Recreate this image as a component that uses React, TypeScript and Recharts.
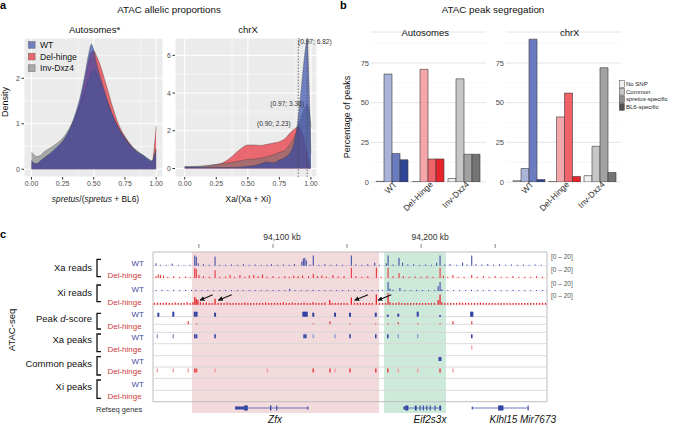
import React from 'react';
import {
  ComposedChart, Area, Bar, Cell, XAxis, YAxis, CartesianGrid,
  ReferenceLine, ReferenceArea, Scatter, ErrorBar,
} from 'recharts';

const FONT = '"Liberation Sans", Arial, Helvetica, sans-serif';

// ---------------- Panel a : allelic proportion densities ----------------
const autoX = [0, 0.02, 0.04, 0.07, 0.1, 0.15, 0.2, 0.25, 0.3, 0.35, 0.4, 0.43, 0.46, 0.48, 0.5, 0.52, 0.55, 0.6, 0.65, 0.7, 0.75, 0.8, 0.85, 0.9, 0.95, 0.97, 0.985, 1.0];
const autoWT = [0.2, 0.14, 0.12, 0.18, 0.25, 0.35, 0.48, 0.62, 0.85, 1.2, 1.7, 2.1, 2.55, 2.75, 2.62, 2.35, 2.05, 1.6, 1.2, 0.9, 0.68, 0.5, 0.38, 0.3, 0.2, 0.18, 0.3, 0.42];
const autoDel = [0.15, 0.13, 0.12, 0.17, 0.24, 0.33, 0.45, 0.6, 0.8, 1.15, 1.6, 2.0, 2.4, 2.58, 2.6, 2.5, 2.3, 1.85, 1.38, 0.98, 0.72, 0.52, 0.37, 0.27, 0.16, 0.18, 0.5, 0.95];
const autoInv = [0.38, 0.32, 0.28, 0.3, 0.38, 0.47, 0.56, 0.68, 0.88, 1.15, 1.5, 1.72, 1.98, 2.1, 2.2, 2.1, 1.9, 1.52, 1.18, 0.9, 0.7, 0.52, 0.4, 0.3, 0.2, 0.17, 0.3, 0.45];

const chrXx = [0, 0.1, 0.2, 0.3, 0.35, 0.4, 0.45, 0.5, 0.55, 0.6, 0.65, 0.7, 0.75, 0.8, 0.83, 0.86, 0.88, 0.9, 0.92, 0.94, 0.96, 0.97, 0.98, 0.99, 1.0];
const chrXWT = [0.08, 0.08, 0.06, 0.05, 0.05, 0.06, 0.08, 0.12, 0.15, 0.25, 0.35, 0.3, 0.45, 0.6, 0.8, 1.2, 1.8, 2.7, 4.0, 5.4, 6.5, 6.82, 5.5, 3.2, 0.8];
const chrXDel = [0.08, 0.08, 0.15, 0.3, 0.5, 0.8, 1.08, 1.25, 1.25, 1.22, 1.28, 1.35, 1.42, 1.62, 1.85, 2.05, 2.15, 2.23, 2.1, 1.7, 1.1, 0.8, 0.5, 0.25, 0.1];
const chrXInv = [0.1, 0.12, 0.18, 0.26, 0.3, 0.35, 0.42, 0.48, 0.5, 0.55, 0.62, 0.72, 0.85, 1.0, 1.25, 1.55, 1.85, 2.2, 2.65, 3.05, 3.3, 3.36, 3.25, 2.9, 2.2];
const chrXModes = [0.9, 0.97];

// ---------------- Panel b : peak segregation ----------------
const groups = ['WT', 'Del-Hinge', 'Inv-Dxz4'];
const peakCats = ['No SNP', 'Common', 'spretus-specific', 'BL6-specific'];
const autoNoSNP = [0.4, 0.2, 2.2];
const autoCommon = [68, 71, 65];
const autoSpretus = [18, 14.5, 17.5];
const autoBL6 = [14, 14.5, 17.5];
const xNoSNP = [0.8, 0.2, 4];
const xCommon = [8.5, 41, 22.5];
const xSpretus = [90, 56, 72];
const xBL6 = [1.5, 3.5, 6];

// ---------------- Panel c : genome tracks (kb, coverage 0-20) ----------------
const xaReadsWT = [[94021, 4], [94024, 1.5], [94028, 1.5], [94032, 3.5], [94036, 1.5], [94040, 1], [94044, 1.5], [94047.2, 17], [94048.2, 15], [94049.5, 4], [94053, 2.5], [94057, 1.5], [94060.9, 15], [94064, 1.5], [94068, 1.5], [94072, 2], [94076, 1.5], [94080, 2.5], [94084, 1.5], [94088, 2], [94092, 1.5], [94096, 1.5], [94099, 2.5], [94103, 1.5], [94107, 2], [94111, 1.5], [94114.5, 3], [94119.5, 7], [94120.5, 12], [94121.5, 13], [94122.5, 9], [94125, 2], [94127.2, 17], [94131, 1.5], [94135, 2.5], [94139, 1.5], [94143, 2], [94147, 1.5], [94152.9, 17], [94156, 2], [94160, 1.5], [94164, 2.5], [94168.7, 5], [94172, 1.5], [94176.5, 4], [94177.7, 17], [94181, 2], [94185.1, 13], [94187.5, 5], [94191, 2], [94195, 2.5], [94199, 1.5], [94203, 2], [94207, 1.5], [94210.5, 5], [94212.8, 17], [94216, 2], [94219.5, 3], [94224, 1.5], [94228, 5], [94231, 2], [94234.2, 17], [94237, 2.5], [94241, 2], [94245, 3], [94249, 2], [94253, 2.5], [94257, 1.5], [94261, 2], [94265, 1.5], [94269, 2], [94273, 1.5], [94277, 2], [94281, 1.5]];
const xaReadsDel = [[94021, 3], [94022.5, 6], [94024, 5], [94026, 4], [94029, 2], [94033, 3], [94037, 2], [94041, 2.5], [94044, 1.5], [94047.2, 17], [94048.2, 15], [94050, 5], [94053, 3], [94057, 2], [94060.9, 13], [94064, 2], [94068, 2.5], [94071, 5], [94074, 2], [94077.7, 5], [94081, 2], [94084, 4], [94087, 5], [94090, 3], [94093, 6], [94096, 2], [94100, 3], [94104, 2], [94108, 3], [94111, 2], [94114, 4], [94117, 3], [94120, 4], [94124, 3], [94127.2, 7], [94130, 3], [94133, 4], [94136, 2.5], [94140.5, 5], [94144, 2.5], [94148, 3], [94152.9, 17], [94156, 3], [94160, 2], [94164, 3], [94169.8, 17], [94173, 2], [94177.7, 17], [94181, 3], [94185.1, 8], [94188, 3], [94192, 2], [94196, 2.5], [94200, 2], [94204, 3], [94208, 2], [94212.8, 17], [94215, 4], [94218, 2], [94221.5, 5], [94225, 2], [94229, 2], [94234.2, 5], [94238, 2], [94242, 3], [94246, 2], [94250, 3], [94254, 2], [94258, 2], [94262, 3], [94266, 2], [94270, 2], [94274, 2], [94278, 3], [94282, 2]];
const xiReadsWT = [[94021, 1.5], [94025, 2], [94029, 1.5], [94033, 2], [94037, 1.5], [94041, 2], [94045, 1.5], [94048, 2], [94052, 1.5], [94056, 1.5], [94060, 1.5], [94064, 1.5], [94068, 1.5], [94072, 1.5], [94076, 1.5], [94080, 1.5], [94084, 1.5], [94088, 1.5], [94092, 1.5], [94096, 1.5], [94100, 1.5], [94104, 1.5], [94108, 1.5], [94111.3, 3.5], [94115, 1.5], [94119, 1.5], [94123, 1.5], [94127, 2], [94131, 1.5], [94135, 1.5], [94139, 1.5], [94143, 1.5], [94147, 1.5], [94151, 1.5], [94155, 1.5], [94159, 1.5], [94163, 1.5], [94167, 1.5], [94171, 1.5], [94174, 1.5], [94177.7, 15], [94179, 4], [94181, 2], [94185.7, 5], [94189, 1.5], [94193, 1.5], [94197, 2], [94201, 1.5], [94205, 1.5], [94209, 1.5], [94211.5, 8], [94212.8, 15], [94214, 3], [94218, 1.5], [94222, 1.5], [94226, 1.5], [94230, 1.5], [94234, 2], [94238, 1.5], [94242, 1.5], [94246, 2], [94250, 1.5], [94254, 1.5], [94258, 1.5], [94262, 2], [94266, 1.5], [94270, 1.5], [94274, 1.5], [94278, 1.5], [94282, 1.5]];
const xiReadsDel = [[94020, 3], [94022, 3.5], [94024, 3], [94026, 3], [94028, 3.5], [94030, 3], [94032, 3], [94034, 3.5], [94036, 3], [94038, 3], [94040, 3], [94042, 4], [94044, 3], [94046, 4], [94047.2, 13], [94048.2, 10], [94049.3, 8], [94051, 4], [94053, 3], [94055, 3.5], [94057, 3], [94059, 3], [94060.9, 10], [94063, 3], [94065, 3], [94067, 3], [94069, 3.5], [94071, 3], [94073, 3], [94075, 3], [94077, 3], [94079, 3], [94081, 3.5], [94083, 3], [94085, 3], [94087, 3], [94089, 3], [94091, 3], [94093, 3], [94095, 3.5], [94097, 3], [94099, 3], [94101, 3], [94103, 3], [94105, 3], [94107, 4], [94109, 3], [94111, 3], [94113, 3.5], [94115, 3], [94117, 3], [94119, 3], [94121, 3.5], [94123, 3], [94125, 3], [94127, 4], [94129, 3], [94131, 3], [94133, 3], [94135, 3.5], [94138.3, 8], [94140, 3], [94142, 3], [94144, 3], [94146, 3], [94148, 3], [94150, 3], [94152.9, 12], [94155, 3], [94157, 3], [94159, 3], [94161, 3], [94163, 3], [94165, 3], [94167, 3], [94169.8, 17], [94172, 3], [94174, 3], [94176, 3], [94177.7, 19], [94179, 4], [94181, 3], [94183, 3], [94185, 4], [94187, 3], [94189, 3], [94191, 3], [94193, 3], [94195, 3], [94197, 3], [94199, 3], [94201, 3], [94203, 3], [94205, 3], [94207, 3], [94209, 3], [94211.5, 8], [94212.8, 17], [94214, 4], [94216, 3], [94218, 3], [94220, 3], [94222, 3], [94224, 3], [94226, 3.5], [94228, 3], [94230, 3], [94232, 3], [94234, 3], [94236, 3], [94238, 3], [94240, 3.5], [94242, 3], [94244, 3], [94246, 3], [94248, 3], [94250, 3], [94252, 3], [94254, 3], [94256, 3], [94258, 3], [94260, 3], [94262, 3], [94264, 3], [94266, 3], [94268, 3], [94270, 3], [94272, 3], [94274, 3], [94276, 3], [94278, 3], [94280, 3], [94282, 3], [94284, 3]];

// d-score bars (kb, score)
const dScoreWT = [[94022.6, 4], [94032.7, 5], [94047.2, 5], [94048.4, 5], [94060.9, 4], [94120.5, 5], [94121.6, 5], [94122.8, 5], [94127.2, 4], [94141.9, 4], [94152, 4], [94169.4, 4], [94177.5, 2], [94184.6, 3], [94197.7, 5], [94212.8, 1.5], [94233.8, 5], [94234.6, 5]];
const dScoreDel = [[94042.8, 3], [94048.4, 1], [94127.2, 1], [94138.5, 3], [94152, 1], [94169.4, 1], [94177.5, 1], [94184.6, 2], [94197.7, 1], [94212.8, 1], [94221.5, 3], [94234.2, 3]];
// peak calls (kb, score 0-1000)
const xaPeaksWT = [[94021.9, 300], [94032.7, 300], [94047.2, 900], [94048.4, 900], [94060.9, 800], [94121.0, 900], [94122.2, 900], [94127.2, 300], [94141.9, 300], [94152, 800], [94169.4, 800], [94177.5, 800], [94184.6, 300], [94197.7, 300], [94234.2, 900]];
const xaPeaksDel = [[94234.2, 300]];
const commonPeaksWT = [[94212.3, 900], [94213.2, 900]];
const commonPeaksDel = [[94021.9, 300], [94032.7, 300], [94042.8, 300], [94047.2, 800], [94048.4, 800], [94060.9, 300], [94096.2, 300], [94127.2, 600], [94138.5, 700], [94141.9, 300], [94152, 700], [94169.4, 700], [94177.5, 800], [94184.6, 300], [94197.7, 300], [94212.8, 800], [94221.5, 300]];
const xiPeaksWT: number[][] = [];
const xiPeaksDel: number[][] = [];

// highlighted loci
const zfxRegion = [94045.3, 94171.6];
const eifRegion = [94175.0, 94216.8];
// gene models
const geneBodies = [[94074.4, 94123.9], [94188.1, 94214.0], [94234.2, 94272.6]];
const geneExons = [[94074.4, 94080.5, 0], [94080.5, 94083.0, 1], [94098.0, 94098.9, 1], [94102.2, 94102.9, 1], [94123.2, 94123.9, 0],
  [94188.1, 94189.3, 0], [94189.3, 94191.4, 1], [94195.8, 94197.0, 1], [94199.0, 94199.7, 1], [94201.2, 94201.9, 1], [94203.5, 94204.2, 1], [94205.8, 94206.5, 1], [94209.1, 94209.8, 1], [94212.3, 94213.4, 1],
  [94234.2, 94234.9, 0], [94252.0, 94255.6, 1], [94271.9, 94272.6, 1]];
const kbTicks = [94050, 94100, 94150, 94200, 94250];
const kbLabelled = [94100, 94200];

// ------------------------------------------------------------------
const aAuto = autoX.map((x, i) => ({ x, wt: autoWT[i], del: autoDel[i], inv: autoInv[i] }));
const aX = chrXx.map((x, i) => ({ x, wt: chrXWT[i], del: chrXDel[i], inv: chrXInv[i] }));
const bAuto = groups.map((g, i) => ({ g, c0: autoNoSNP[i], c1: autoCommon[i], c2: autoSpretus[i], c3: autoBL6[i] }));
const bX = groups.map((g, i) => ({ g, c0: xNoSNP[i], c1: xCommon[i], c2: xSpretus[i], c3: xBL6[i] }));

const barColors = [
  ['#c4c4c4', '#aab3da', '#6b7bbf', '#2e4596'],
  ['#f6d0d2', '#f4a6aa', '#ef6269', '#e5242c'],
  ['#f0f0f0', '#c6c6c6', '#a2a2a2', '#747474'],
];
const legendColors = ['#f0f0f0', '#c6c6c6', '#8f8f8f', '#505050'];

const BLUE = '#3142a3';
const RED = '#e6262c';
const noShape = () => <g />;

const toBars = (rows: number[][], base: number, k: number) => rows.map(([x, v]) => ({ x, y: base, e: [0, v * k] }));
const toBlocks = (rows: number[][], base: number, h: number, strong: boolean) =>
  rows.filter(([, s]) => (s >= 500) === strong).map(([x]) => ({ x, y: base, e: [0, h] }));

const tracks = [
  { data: toBars(xaReadsWT, 149.3, 0.6), color: BLUE, w: 1 },
  { data: toBars(xaReadsDel, 137, 0.6), color: RED, w: 1 },
  { data: toBars(xiReadsWT, 124, 0.6), color: BLUE, w: 1 },
  { data: toBars(xiReadsDel, 110.3, 0.6), color: RED, w: 1.3 },
  { data: toBars(dScoreWT, 98.3, 1), color: '#2f41a1', w: 2 },
  { data: toBars(dScoreDel, 90.7, 1), color: '#e23a3a', w: 1.2 },
  { data: toBlocks(xaPeaksWT, 76.7, 4, true), color: '#3447a6', w: 1.6 },
  { data: toBlocks(xaPeaksWT, 76.7, 4, false), color: '#8f9ad0', w: 1.4 },
  { data: toBlocks(xaPeaksDel, 65.5, 4, false), color: '#f2a0a0', w: 1.4 },
  { data: toBlocks(commonPeaksWT, 54, 4, true), color: '#3447a6', w: 1.6 },
  { data: toBlocks(commonPeaksDel, 42.5, 4, true), color: '#e84848', w: 1.6 },
  { data: toBlocks(commonPeaksDel, 42.5, 4, false), color: '#f2a0a0', w: 1.4 },
  { data: toBlocks(xiPeaksWT, 31, 4, true), color: '#3447a6', w: 1.6 },
  { data: toBlocks(xiPeaksDel, 19.5, 4, true), color: '#e84848', w: 1.6 },
];
const rowLines = [98.3, 90.7, 82.7, 71.3, 59.3, 48, 36.7, 24.7];
const readBaselines = [[149.3, BLUE], [137, RED], [124, BLUE], [110.3, RED]];

const tickStyle = { fontSize: 7, fill: '#4d4d4d', fontFamily: FONT };

const RotTick = (props: any) => {
  const { x, y, payload } = props;
  const ax = x + 5;
  return (
    <text x={ax} y={y} transform={`rotate(-45 ${ax} ${y})`} textAnchor="end" fontSize={8.5} fill="#333" fontFamily={FONT}>
      {payload.value}
    </text>
  );
};

const KbTick = (props: any) => {
  const { x, y, payload } = props;
  if (!kbLabelled.includes(payload.value)) return <g />;
  return (
    <text x={x + 9} y={y - 2} textAnchor="middle" fontSize={8.5} fill="#333" fontFamily={FONT}>
      {payload.value.toLocaleString('en-US') + ' kb'}
    </text>
  );
};

const DensityChart = ({ data, left, width, mLeft, mRight, xDomain, yDomain, yTicks, yMinor, modes }: any) => (
  <div style={{ position: 'absolute', left, top: 0 }}>
    <ComposedChart width={width} height={215} data={data} margin={{ top: 38, right: mRight, bottom: 18, left: mLeft }}>
      <CartesianGrid fill="#ebebeb" stroke="#ffffff" strokeWidth={1} />
      <CartesianGrid stroke="#ffffff" strokeWidth={0.5} horizontalValues={yMinor} verticalValues={[0.125, 0.375, 0.625, 0.875]} />
      <XAxis type="number" dataKey="x" domain={xDomain} ticks={[0, 0.25, 0.5, 0.75, 1]} tickFormatter={(v: number) => v.toFixed(2)}
        height={20} tickSize={2.5} tickMargin={1.5} axisLine={false} stroke="#333" tick={tickStyle} allowDataOverflow />
      <YAxis type="number" domain={yDomain} ticks={yTicks} width={14} tickSize={2.5} tickMargin={1.5} axisLine={false} stroke="#333" tick={tickStyle} allowDataOverflow />
      <Area type="monotone" dataKey="del" baseValue={0} fill="#e8303a" fillOpacity={0.7} stroke="#3a3a3a" strokeWidth={0.5} strokeOpacity={0.7} isAnimationActive={false} />
      <Area type="monotone" dataKey="inv" baseValue={0} fill="#707070" fillOpacity={0.55} stroke="#3a3a3a" strokeWidth={0.5} strokeOpacity={0.7} isAnimationActive={false} />
      <Area type="monotone" dataKey="wt" baseValue={0} fill="#2d45a8" fillOpacity={0.65} stroke="#3a3a3a" strokeWidth={0.5} strokeOpacity={0.7} isAnimationActive={false} />
      {modes && modes.map((m: number) => (
        <ReferenceLine key={m} x={m} stroke="#444" strokeWidth={0.7} strokeDasharray="1.5 1.5" />
      ))}
    </ComposedChart>
  </div>
);

const SegChart = ({ data, left, width, mLeft, yWidth, padL, padR }: any) => (
  <div style={{ position: 'absolute', left, top: 0 }}>
    <ComposedChart width={width} height={230} data={data} margin={{ top: 32, right: 4, bottom: 8, left: mLeft }} barCategoryGap={1.5} barGap={0}>
      <CartesianGrid vertical={false} stroke="#f3f3f3" strokeWidth={0.6} horizontalValues={[12.5, 37.5, 62.5, 87.5]} />
      <CartesianGrid vertical={false} stroke="#e4e4e4" strokeWidth={1} />
      <XAxis dataKey="g" type="category" padding={{ left: padL, right: padR }} height={40} tickSize={0} tickMargin={3}
        axisLine={false} tickLine={false} tick={<RotTick />} interval={0} />
      <YAxis type="number" domain={[0, 94.5]} ticks={[0, 25, 50, 75]} width={yWidth} axisLine={false} tickLine={false}
        tickSize={0} tickMargin={2} tick={{ fontSize: 7.5, fill: '#4d4d4d', fontFamily: FONT }} allowDataOverflow />
      {['c0', 'c1', 'c2', 'c3'].map((k, ci) => (
        <Bar key={k} dataKey={k} stroke="#3a3a3a" strokeWidth={0.6} isAnimationActive={false}>
          {groups.map((g, gi) => <Cell key={g} fill={barColors[gi][ci]} />)}
        </Bar>
      ))}
    </ComposedChart>
  </div>
);

const TrackChart = () => (
  <div style={{ position: 'absolute', left: 0, top: 0 }}>
    <ComposedChart width={673} height={424} margin={{ top: 228, right: 126, bottom: 9, left: 153 }}>
      <XAxis type="number" dataKey="x" orientation="top" domain={[94019, 94285]} ticks={kbTicks} tickSize={4} tickMargin={2}
        height={20} axisLine={false} stroke="#888" tick={<KbTick />} allowDataOverflow />
      <YAxis type="number" dataKey="y" domain={[0, 167]} hide allowDataOverflow />
      <ReferenceArea x1={zfxRegion[0]} x2={zfxRegion[1]} y1={2} y2={163} fill="#f2dadd" fillOpacity={1} stroke="none" ifOverflow="visible" />
      <ReferenceArea x1={eifRegion[0]} x2={eifRegion[1]} y1={2} y2={163} fill="#cde9da" fillOpacity={1} stroke="none" ifOverflow="visible" />
      {rowLines.map((y) => <ReferenceLine key={y} y={y} stroke="#d6d6d6" strokeWidth={0.9} />)}
      {readBaselines.map(([y, c]: any) => <ReferenceLine key={'b' + y} y={y} stroke={c} strokeOpacity={0.3} strokeWidth={0.7} strokeDasharray="1.5 1" />)}
      <ReferenceArea x1={94019} x2={94285} y1={13.3} y2={163} fill="none" fillOpacity={0} stroke="#bdbdbd" strokeWidth={1} ifOverflow="visible" />
      {geneBodies.map(([s, e]) => (
        <ReferenceLine key={'g' + s} segment={[{ x: s, y: 7 }, { x: e, y: 7 }]} stroke="#4a5ab0" strokeWidth={0.8} ifOverflow="visible" />
      ))}
      {geneExons.map(([s, e, t]) => (
        <ReferenceArea key={'e' + s} x1={s} x2={e} y1={t ? 4.5 : 5.5} y2={t ? 9.5 : 8.5} fill="#2b3c9c" fillOpacity={1} stroke="none" ifOverflow="visible" />
      ))}
      {tracks.map((t, i) => (
        <Scatter key={'t' + i} data={t.data} dataKey="y" shape={noShape} isAnimationActive={false}>
          <ErrorBar dataKey="e" direction="y" width={0} stroke={t.color} strokeWidth={t.w} isAnimationActive={false} />
        </Scatter>
      ))}
    </ComposedChart>
  </div>
);

const Bracket = ({ y1, y2 }: any) => (
  <path d={`M101,${y1} L97,${y1} L97,${y2} L101,${y2}`} fill="none" stroke="#111" strokeWidth={1.3} />
);

const rowLabels = [
  { name: 'Xa reads', y: 271, b: [259.3, 276.7], wt: 265.5, del: 277.8 },
  { name: 'Xi reads', y: 295.6, b: [285, 301.7], wt: 292, del: 304.5 },
  { name: 'Peak', italic: 'd', rest: '-score', y: 321.6, b: [313.3, 329], wt: 317, del: 328.5 },
  { name: 'Xa peaks', y: 343.3, b: [334, 351.7], wt: 340, del: 351.8 },
  { name: 'Common peaks', y: 366.6, b: [356.7, 375], wt: 363.5, del: 374 },
  { name: 'Xi peaks', y: 390, b: [380, 398.3], wt: 386.8, del: 398.5 },
];

const Overlay = () => (
  <svg width={673} height={424} style={{ position: 'absolute', left: 0, top: 0, pointerEvents: 'none' }} fontFamily={FONT}>
    <defs>
      <marker id="ah" viewBox="0 0 10 10" refX="9" refY="5" markerWidth="4.5" markerHeight="4.5" orient="auto">
        <path d="M0,0 L10,5 L0,10 z" fill="#111" />
      </marker>
    </defs>
    {/* panel letters */}
    <text x={0} y={9} fontSize={11} fontWeight="bold" fill="#000">a</text>
    <text x={340} y={9} fontSize={11} fontWeight="bold" fill="#000">b</text>
    <text x={0} y={238} fontSize={11} fontWeight="bold" fill="#000">c</text>

    {/* panel a */}
    <text x={169} y={12.5} fontSize={9.8} textAnchor="middle" fill="#111">ATAC allelic proportions</text>
    <text x={94.5} y={32.5} fontSize={9.5} textAnchor="middle" fill="#111">Autosomes*</text>
    <text x={248} y={32.5} fontSize={9.5} textAnchor="middle" fill="#111">chrX</text>
    <text x={8.3} y={102} fontSize={9} textAnchor="middle" fill="#111" transform="rotate(-90 8.3 102)">Density</text>
    <text x={95.5} y={201.5} fontSize={8.4} textAnchor="middle" fill="#111">
      <tspan fontStyle="italic">spretus</tspan>/(<tspan fontStyle="italic">spretus</tspan> + BL6)
    </text>
    <text x={248.3} y={201.5} fontSize={8.4} textAnchor="middle" fill="#111">Xa/(Xa + Xi)</text>
    {[['WT', '#6f7fbf', 48], ['Del-hinge', '#e8686f', 59.7], ['Inv-Dxz4', '#a8a8a8', 71.3]].map(([t, c, y]: any) => (
      <g key={t}>
        <rect x={28.3} y={y - 6.5} width={6.8} height={6.8} fill={c} stroke="#555" strokeWidth={0.4} />
        <text x={40} y={y} fontSize={8.6} fill="#111">{t}</text>
      </g>
    ))}
    <text x={298} y={44} fontSize={6.6} fill="#333">(0.97; 6.82)</text>
    <text x={304} y={106} fontSize={6.6} fill="#333" textAnchor="end">(0.97; 3.36)</text>
    <text x={290.7} y={126} fontSize={6.6} fill="#333" textAnchor="end">(0.90; 2.23)</text>

    {/* panel b */}
    <text x={493} y={12.5} fontSize={9.8} textAnchor="middle" fill="#111">ATAC peak segregation</text>
    <text x={425.2} y={35.5} fontSize={9.5} textAnchor="middle" fill="#111">Autosomes</text>
    <text x={569.7} y={35.5} fontSize={9.5} textAnchor="middle" fill="#111">chrX</text>
    <text x={350} y={117} fontSize={9} textAnchor="middle" fill="#111" transform="rotate(-90 350 117)">Percentage of peaks</text>
    {peakCats.map((c, i) => {
      const y = 80.7 + i * 7.6;
      return (
        <g key={c}>
          <rect x={619.3} y={y} width={5} height={6.8} fill={legendColors[i]} stroke="#444" strokeWidth={0.5} />
          <text x={626} y={y + 5.4} fontSize={6} fill="#222">
            {c === 'spretus-specific' ? (<><tspan fontStyle="italic">spretus</tspan>-specific</>) : c}
          </text>
        </g>
      );
    })}

    {/* panel c */}
    <text x={15} y={330} fontSize={9.5} textAnchor="middle" fill="#111" transform="rotate(-90 15 330)">ATAC-seq</text>
    {rowLabels.map((r) => (
      <g key={r.name}>
        <text x={92} y={r.y} fontSize={9.5} textAnchor="end" fill="#111">
          {r.italic ? (<>{r.name} <tspan fontStyle="italic">{r.italic}</tspan>{r.rest}</>) : r.name}
        </text>
        <Bracket y1={r.b[0]} y2={r.b[1]} />
        <text x={144} y={r.wt} fontSize={8} textAnchor="end" fill="#3b4aa0">WT</text>
        <text x={141.7} y={r.del} fontSize={8} textAnchor="end" fill="#cc3d3d">Del-hinge</text>
      </g>
    ))}
    <text x={96} y={411.6} fontSize={7.5} fill="#333">Refseq genes</text>
    {[259, 272.3, 285.6, 298.3].map((y) => (
      <text key={y} x={551} y={y} fontSize={6.5} fill="#555">[0 – 20]</text>
    ))}
    {[[212.7, 294.7, 200, 300.3], [231.7, 294.7, 218.3, 300.3], [368, 294.7, 354.7, 300.3], [391.3, 294.7, 378, 300.3]].map(([x1, y1, x2, y2]) => (
      <line key={x1} x1={x1} y1={y1} x2={x2} y2={y2} stroke="#111" strokeWidth={1.1} markerEnd="url(#ah)" />
    ))}
    <text x={275} y={422.5} fontSize={10} fontStyle="italic" textAnchor="middle" fill="#111">Zfx</text>
    <text x={430} y={422.5} fontSize={10} fontStyle="italic" textAnchor="middle" fill="#111">Eif2s3x</text>
    <text x={503.5} y={422.5} fontSize={10} fontStyle="italic" textAnchor="middle" fill="#111">Klhl15</text>
    <text x={538} y={422.5} fontSize={10} fontStyle="italic" textAnchor="middle" fill="#111">Mir7673</text>
  </svg>
);

export default function App() {
  return (
    <div style={{ position: 'absolute', left: 0, top: 0, width: 673, height: 424, background: '#fff', fontFamily: FONT, overflow: 'hidden' }}>
      <DensityChart data={aAuto} left={0} width={170} mLeft={10} mRight={7} xDomain={[-0.06, 1.055]} yDomain={[-0.17, 2.885]} yTicks={[0, 1, 2]} yMinor={[0.5, 1.5, 2.5]} />
      <DensityChart data={aX} left={160} width={160} mLeft={1} mRight={3} xDomain={[-0.077, 1.048]} yDomain={[-0.45, 6.92]} yTicks={[0, 2, 4, 6]} yMinor={[1, 3, 5]} modes={chrXModes} />
      <SegChart data={bAuto} left={340} width={150} mLeft={9} yWidth={22} padL={3.5} padR={3.5} />
      <SegChart data={bX} left={485} width={140} mLeft={3} yWidth={18} padL={5.5} padR={3} />
      <TrackChart />
      <Overlay />
    </div>
  );
}
